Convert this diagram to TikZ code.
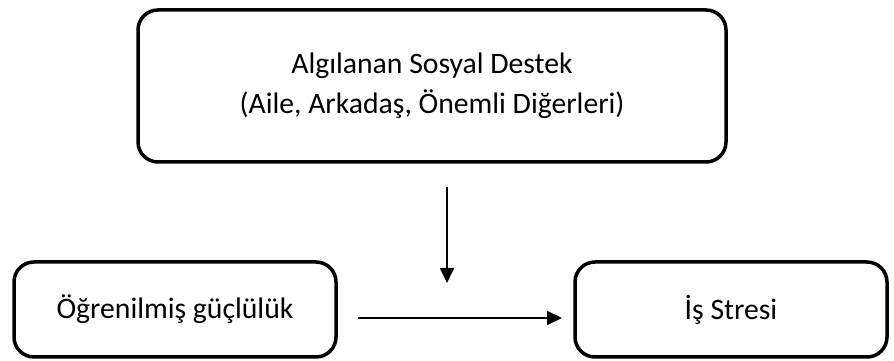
\documentclass[tikz,border=0pt]{standalone}
\usepackage{fontspec}
\setmainfont{Carlito}
\usetikzlibrary{arrows.meta}
\begin{document}
\begin{tikzpicture}[x=1pt,y=1pt,
  box/.style={draw=black, line width=3.5pt, rounded corners=20pt, fill=white, align=center, inner sep=0pt, font=\fontsize{29.7}{40}\selectfont},
  conn/.style={line width=1.8pt, -{Triangle[length=15pt,width=14pt]}}]
\useasboundingbox[fill=white] (0,0) rectangle (894,361);
\node[box, minimum width=588pt, minimum height=152pt] (top) at (432,275) {Algılanan Sosyal Destek\\(Aile, Arkadaş, Önemli Diğerleri)};
\node[box, minimum width=322pt, minimum height=95pt] (og) at (175,51.5) {Öğrenilmiş güçlülük};
\node[box, minimum width=312pt, minimum height=95pt] (is) at (731,51.5) {İş Stresi};
\coordinate (vs) at (447,174);
\coordinate (ve) at (447,78);
\coordinate (hs) at (358,43);
\coordinate (he) at (562,43);
\draw[conn] (vs) -- (ve);
\draw[conn] (hs) -- (he);
\end{tikzpicture}
\end{document}
